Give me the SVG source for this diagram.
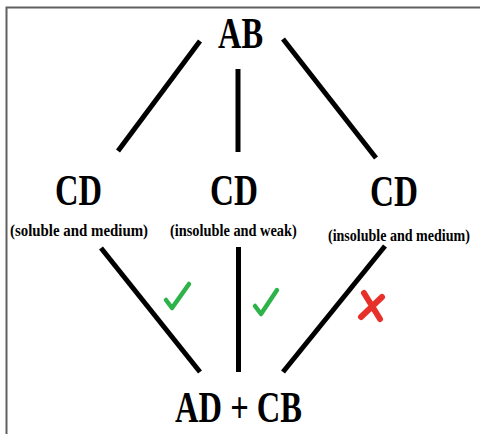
<svg xmlns="http://www.w3.org/2000/svg" width="480" height="434" viewBox="0 0 480 434">
<style>
.big{font-family:"Liberation Serif",serif;font-weight:bold;font-size:44px;fill:#000;text-anchor:middle}
.sub{font-family:"Liberation Serif",serif;font-weight:bold;font-size:17px;fill:#000}
.ln{stroke:#000;stroke-width:5;fill:none;stroke-linecap:butt}
.ok{stroke:#2db34a;stroke-width:4.5;fill:none;stroke-linecap:round;stroke-linejoin:round}
.no{stroke:#e8302a;stroke-width:6;fill:none;stroke-linecap:round}
</style>
<rect width="480" height="434" fill="#fff"/>
<path d="M6.5 434V7.5H480" fill="none" stroke="#606060" stroke-width="2"/>
<g id="connectors">
<line class="ln" x1="200" y1="41" x2="118" y2="151"/>
<line class="ln" x1="238" y1="69" x2="238" y2="152"/>
<line class="ln" x1="283" y1="39" x2="376" y2="158"/>
<line class="ln" x1="101" y1="248" x2="200" y2="372"/>
<line class="ln" x1="238.5" y1="247" x2="238.5" y2="372"/>
<line class="ln" x1="385" y1="246" x2="283" y2="372"/>
</g>
<g id="AB"><text class="big" x="240.5" y="48" textLength="45" lengthAdjust="spacingAndGlyphs">AB</text></g>
<g id="CD1"><text class="big" x="78.5" y="205" textLength="47" lengthAdjust="spacingAndGlyphs">CD</text>
<text class="sub" transform="translate(10 236) scale(0.875 1)">(soluble and medium)</text></g>
<g id="CD2"><text class="big" x="234" y="205" textLength="48" lengthAdjust="spacingAndGlyphs">CD</text>
<text class="sub" transform="translate(170 236) scale(0.845 1)">(insoluble and weak)</text></g>
<g id="CD3"><text class="big" x="394" y="206" textLength="48" lengthAdjust="spacingAndGlyphs">CD</text>
<text class="sub" transform="translate(328 241) scale(0.826 1)">(insoluble and medium)</text></g>
<g id="ADCB"><text class="big" x="238.5" y="422" textLength="127" lengthAdjust="spacingAndGlyphs">AD + CB</text></g>
<g id="marks">
<path class="ok" d="M166 300L172 308L189 284"/>
<path class="ok" d="M255 306L261 314L277 290"/>
<path class="no" d="M364 293L380 319M382 297L361 317"/>
</g>
</svg>
